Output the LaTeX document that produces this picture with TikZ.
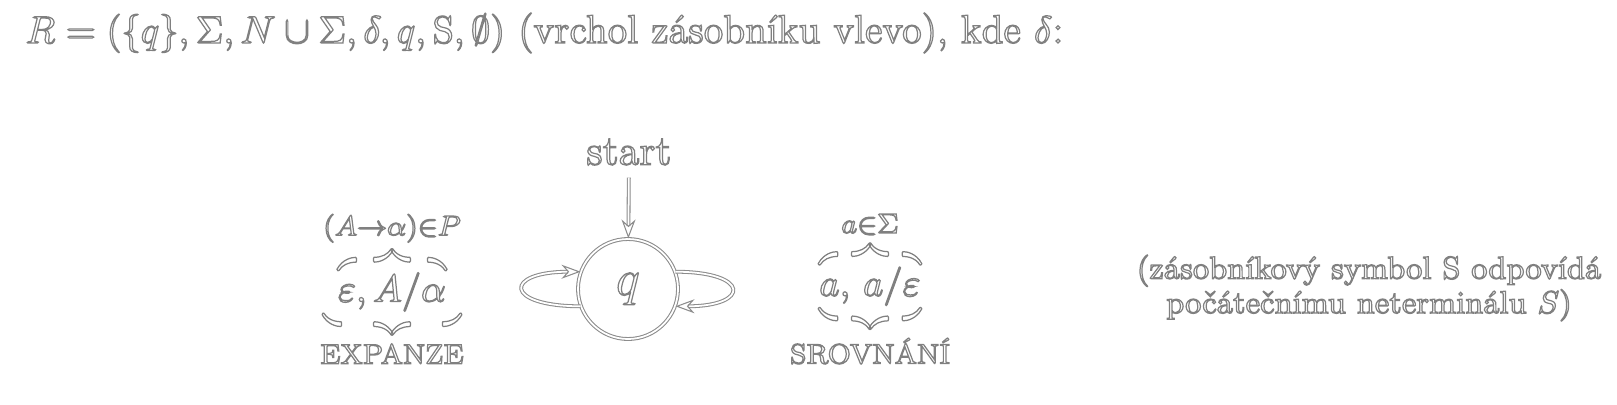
\documentclass[tikz,border=0pt]{standalone}
\usepackage{amsmath, amssymb}
\usetikzlibrary{arrows.meta}
% obrysove pismo: bila vypln, sedy obrys
\newcommand\obrys[1]{\color{white}\special{pdf:literal direct 1 Tr 0.35 w 0.5 G 1 g}#1\special{pdf:literal direct 0 Tr}}
% svorky bez vodorovnych car
\makeatletter
\def\downbracefill{$\m@th\braceld\hfill\braceru\bracelu\hfill\bracerd$}
\def\upbracefill{$\m@th\bracelu\hfill\bracerd\braceld\hfill\braceru$}
\makeatother
\tikzset{
  label text/.style={text=white},
  line edge/.style={draw=black!45, line width=0.3pt, double=white, double distance=0.5pt},
  loop edge/.style={line edge, -{Stealth[open, length=1.9mm, width=1.4mm]}}
}
\begin{document}
\begin{tikzpicture}[every node/.style={label text}]
        \useasboundingbox (0,0) rectangle (16.17,-4.04);
        \node[anchor=base west, inner sep=0pt] (title) at (0.25,-0.43)
          {\obrys{\fontsize{11.4}{14}\selectfont $R = (\{q\}, \Sigma, N \cup \Sigma, \delta, q, \mathrm{S}, \emptyset)$ (vrchol zásobníku vlevo), kde $\delta$:}};
        \node[line edge, circle, minimum size=1.0cm] (q) at (6.28,-2.89) {\obrys{\Large $q$}};
        \node (start) at (6.29,-1.52) {\obrys{\large start}};
        \draw[loop edge] (start) -- (q);
        % smycky
        \draw[loop edge] (q.200) .. controls +(-0.77,0) and +(-0.77,0) .. (q.160);
        \draw[loop edge] (q.20) .. controls +(0.75,0) and +(0.75,0) .. (q.340);
        \node (expand) at (3.92,-2.89)
          {\obrys{\fontsize{11.4}{14}\selectfont $\underbrace{\overbrace{\varepsilon, A/\alpha}^{(A\to\alpha)\in P}}_{\text{EXPANZE}}$}};
        \node (match) at (8.70,-2.89)
          {\obrys{\fontsize{11.4}{14}\selectfont $\underbrace{\overbrace{a,\,a/\varepsilon}^{a\in\Sigma}}_{\text{SROVNÁNÍ}}$}};
        \node[align=center, font=\fontsize{9}{9.8}\selectfont] (note) at (13.69,-2.88)
          {\obrys{(zásobníkový symbol S odpovídá}\\ \obrys{počátečnímu neterminálu $S$)}};
\end{tikzpicture}
\end{document}
